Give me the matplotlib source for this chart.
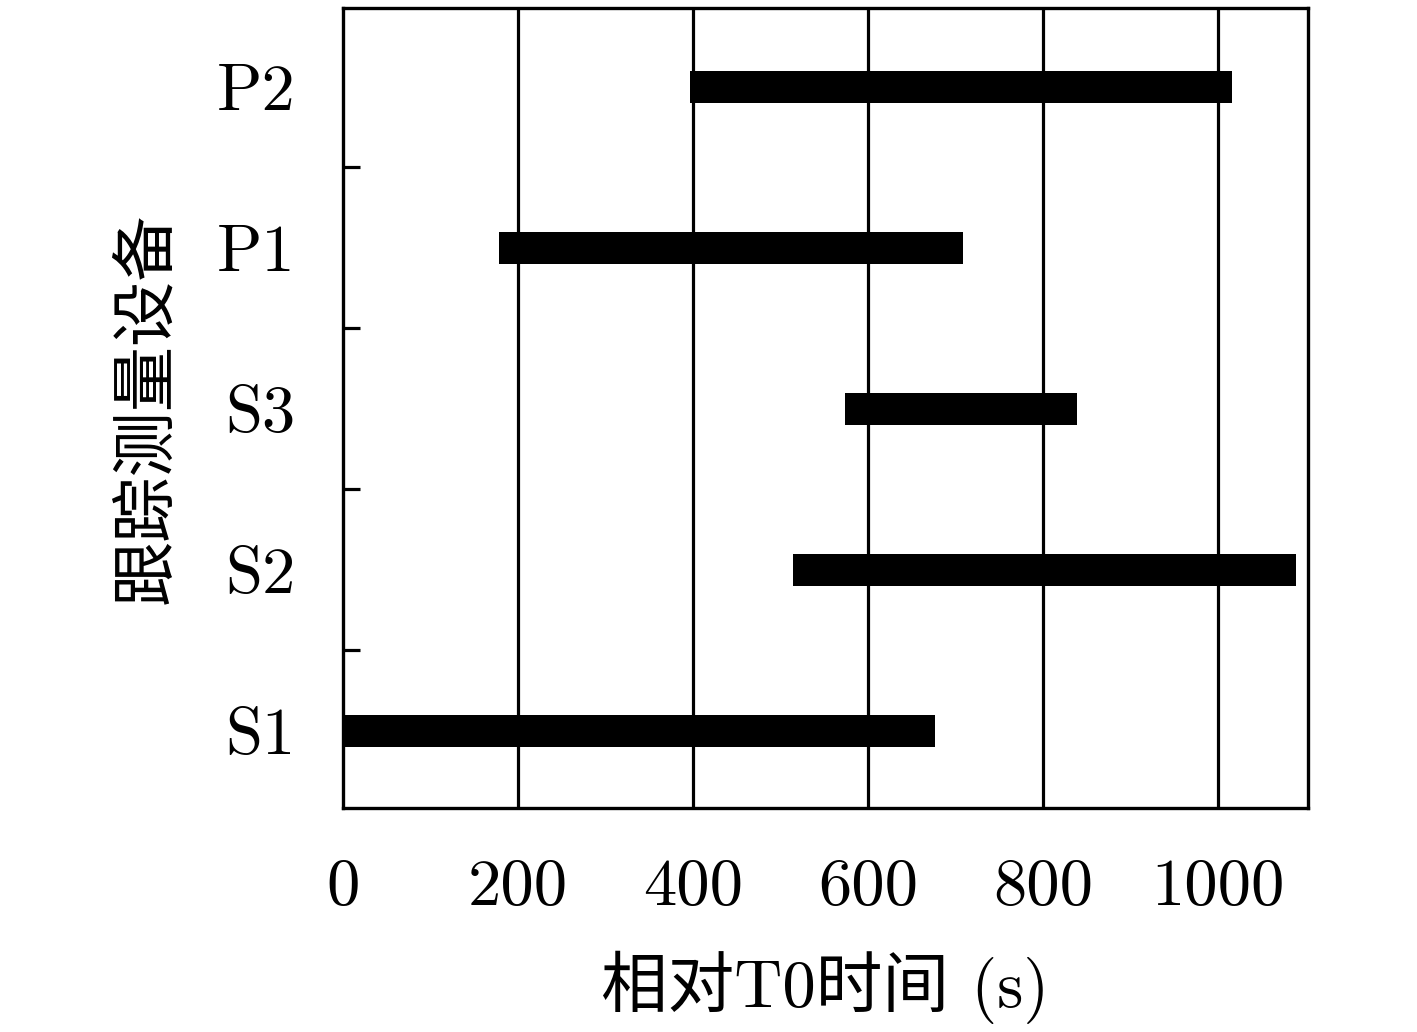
import matplotlib.pyplot as plt
import numpy as np

plt.rcParams['font.family'] = ['cmr10', 'Noto Sans CJK SC']
plt.rcParams['axes.formatter.use_mathtext'] = True
plt.rcParams['mathtext.fontset'] = 'cm'

# 跟踪测量设备 / 起止时间 (s)
devices = ['S1', 'S2', 'S3', 'P1', 'P2']
start = [0, 514, 574, 178, 397]
end = [677, 1089, 839, 709, 1016]
xticks = [0, 200, 400, 600, 800, 1000]

fig = plt.figure(figsize=(14.17, 10.32), dpi=100)
ax = fig.add_axes([0.2421, 0.2171, 0.6810, 0.7751])

y = np.arange(len(devices))
widths = [e - s for s, e in zip(start, end)]
ax.barh(y, widths, left=start, height=0.2, color='black', zorder=3)

ax.set_xlim(0, 1103)
ax.set_ylim(-0.48, 4.49)
ax.set_xticks(xticks)
ax.set_xticklabels([str(v) for v in xticks])
ax.set_yticks(y)
ax.set_yticklabels(devices)
ax.set_yticks(y[:-1] + 0.5, minor=True)

for v in xticks[1:]:
    ax.axvline(v, color='black', lw=2.3, zorder=1)

for s in ax.spines.values():
    s.set_linewidth(2.4)

ax.tick_params(axis='x', length=0, pad=36, labelsize=48)
ax.tick_params(axis='y', which='major', length=0, pad=34, labelsize=48)
ax.tick_params(axis='y', which='minor', direction='in', length=12, width=2.3)

ax.set_xlabel('相对T0时间 (s)', fontsize=48, labelpad=24)
ax.set_ylabel('跟踪测量设备', fontsize=47, labelpad=28)

fig.savefig('out.png', dpi=100)
